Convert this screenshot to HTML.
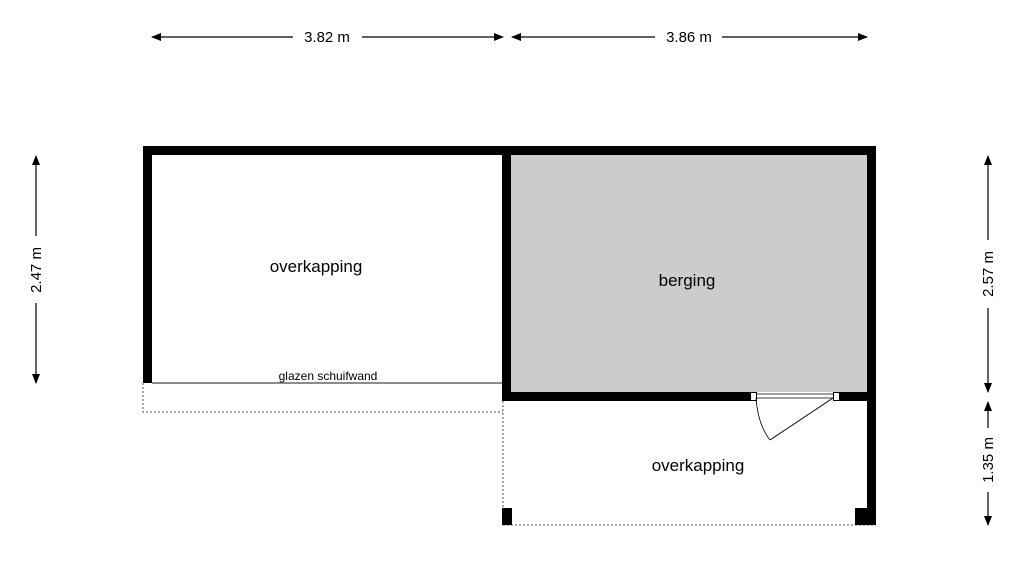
<!DOCTYPE html>
<html><head><meta charset="utf-8"><style>
html,body{margin:0;padding:0;background:#fff;}
svg{display:block;font-family:"Liberation Sans",sans-serif;}
</style></head><body>
<svg width="1032" height="566" viewBox="0 0 1032 566" xmlns="http://www.w3.org/2000/svg">
<defs>
<marker id="a" markerWidth="10" markerHeight="8" refX="9" refY="4" orient="auto-start-reverse" markerUnits="userSpaceOnUse">
<path d="M0,0 L10,4 L0,8 Z" fill="#000"/></marker>
</defs>
<!-- berging fill -->
<rect x="511" y="155" width="356" height="237" fill="#cccccc"/>
<!-- dashed outlines -->
<path d="M143,383 V412 H503" fill="none" stroke="#555" stroke-width="1" stroke-dasharray="2,2"/>
<path d="M503,401 V525 H876" fill="none" stroke="#555" stroke-width="1" stroke-dasharray="2,2"/>
<!-- glass line -->
<line x1="152" y1="383" x2="503" y2="383" stroke="#666" stroke-width="1.5"/>
<!-- walls -->
<rect x="143" y="146" width="733" height="9" fill="#000"/>
<rect x="143" y="146" width="9" height="237" fill="#000"/>
<rect x="502" y="146" width="9" height="255" fill="#000"/>
<rect x="867" y="146" width="9" height="379" fill="#000"/>
<rect x="502" y="392" width="248" height="9" fill="#000"/>
<rect x="840" y="392" width="30" height="9" fill="#000"/>
<rect x="502" y="508" width="10" height="17" fill="#000"/>
<rect x="855" y="508" width="21" height="17" fill="#000"/>
<!-- door -->
<rect x="750.5" y="392.5" width="6" height="8" fill="#fff" stroke="#000" stroke-width="1"/>
<rect x="833.5" y="392.5" width="6" height="8" fill="#fff" stroke="#000" stroke-width="1"/>
<line x1="756" y1="394" x2="834" y2="394" stroke="#000" stroke-width="0.8"/>
<line x1="756" y1="398" x2="834" y2="398" stroke="#000" stroke-width="0.8"/>
<line x1="833" y1="398" x2="770" y2="440" stroke="#000" stroke-width="1"/>
<path d="M756,398 Q758,425 770,440" fill="none" stroke="#000" stroke-width="0.8"/>
<!-- labels -->
<text x="316" y="272" font-size="17" text-anchor="middle">overkapping</text>
<text x="687" y="286" font-size="17" text-anchor="middle">berging</text>
<text x="698" y="471" font-size="17" text-anchor="middle">overkapping</text>
<text x="328" y="380" font-size="12" text-anchor="middle">glazen schuifwand</text>
<!-- dimensions -->
<g stroke="#000" stroke-width="1.2" fill="none">
<line x1="152" y1="37" x2="293" y2="37" marker-start="url(#a)"/>
<line x1="362" y1="37" x2="503" y2="37" marker-end="url(#a)"/>
<line x1="512" y1="37" x2="655" y2="37" marker-start="url(#a)"/>
<line x1="722" y1="37" x2="867" y2="37" marker-end="url(#a)"/>
<line x1="36" y1="156" x2="36" y2="236" marker-start="url(#a)"/>
<line x1="36" y1="303" x2="36" y2="383" marker-end="url(#a)"/>
<line x1="988" y1="156" x2="988" y2="240" marker-start="url(#a)"/>
<line x1="988" y1="308" x2="988" y2="392" marker-end="url(#a)"/>
<line x1="988" y1="402" x2="988" y2="428" marker-start="url(#a)"/>
<line x1="988" y1="492" x2="988" y2="525" marker-end="url(#a)"/>
</g>
<g font-size="15" text-anchor="middle">
<text x="327" y="42">3.82 m</text>
<text x="689" y="42">3.86 m</text>
<text transform="translate(41,270) rotate(-90)">2.47 m</text>
<text transform="translate(993,274) rotate(-90)">2.57 m</text>
<text transform="translate(993,460) rotate(-90)">1.35 m</text>
</g>
</svg>
</body></html>
